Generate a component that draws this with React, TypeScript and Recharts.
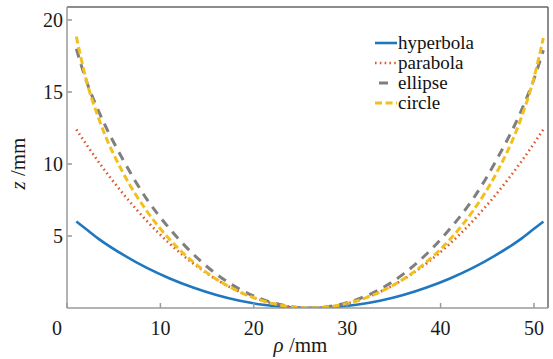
import React from "react";
import { LineChart, Line, XAxis, YAxis, ReferenceLine } from "recharts";

// radial position (mm) and sag of each profile (mm)
const rho = [1, 2, 3.5, 6, 8.5, 11, 13.5, 16, 18.5, 21, 23.5, 26, 28.5, 31, 33.5, 36, 38.5, 41, 43.5, 46, 48.5, 50, 51];
const hyperbola = [6.0, 5.5, 4.75, 3.7, 2.8, 2.05, 1.42, 0.9, 0.5, 0.22, 0.06, 0, 0.06, 0.22, 0.5, 0.9, 1.42, 2.05, 2.8, 3.7, 4.75, 5.5, 6.0];
const parabola = [12.4, 11.43, 10.04, 7.94, 6.08, 4.46, 3.1, 1.98, 1.12, 0.5, 0.12, 0, 0.12, 0.5, 1.12, 1.98, 3.1, 4.46, 6.08, 7.94, 10.04, 11.43, 12.4];
const ellipse = [18.0, 15.9, 13.5, 10.3, 7.6, 5.5, 3.75, 2.35, 1.3, 0.58, 0.15, 0, 0.15, 0.58, 1.3, 2.35, 3.75, 5.5, 7.6, 10.3, 13.5, 15.9, 17.9];
const circle = [18.85, 16.0, 12.97, 9.39, 6.77, 4.76, 3.2, 2.0, 1.11, 0.49, 0.12, 0, 0.12, 0.49, 1.11, 2.0, 3.2, 4.76, 6.77, 9.39, 12.97, 16.0, 18.75];

const xTicks = [0, 10, 20, 30, 40, 50];
const yTicks = [5, 10, 15, 20];

const data = rho.map((r, i) => ({
  rho: r,
  hyperbola: hyperbola[i],
  parabola: parabola[i],
  ellipse: ellipse[i],
  circle: circle[i],
}));

const series = [
  { key: "hyperbola", color: "#1f77c0", dash: undefined, width: 2.6 },
  { key: "parabola", color: "#dc5a2e", dash: "1.6 3.2", width: 2.6 },
  { key: "ellipse", color: "#7f7f7f", dash: "9 7", width: 3 },
  { key: "circle", color: "#f2c01e", dash: "7 3.5", width: 3 },
];

const FONT = "'Liberation Serif', 'Times New Roman', serif";

const XTick = ({ x, y, payload }: any) => (
  <text
    x={payload.value === 0 ? x - 10 : x}
    y={y}
    dy="0.71em"
    textAnchor="middle"
    fontFamily={FONT}
    fontSize={20}
    fill="#1a1a1a"
  >
    {payload.value}
  </text>
);

const LegendBox = () => (
  <div
    style={{
      position: "absolute",
      left: 374,
      top: 33,
      fontFamily: FONT,
      fontSize: 19,
      color: "#111",
      background: "#fff",
    }}
  >
    {series.map((s) => (
      <div
        key={s.key}
        style={{ display: "flex", alignItems: "center", height: 20 }}
      >
        <svg width={24} height={20}>
          <line
            x1={1}
            x2={23}
            y1={10}
            y2={10}
            stroke={s.color}
            strokeWidth={s.width}
            strokeDasharray={s.key === "ellipse" ? "0 4 9 20" : s.dash}
          />
        </svg>
        <span style={{ lineHeight: "18px" }}>{s.key}</span>
      </div>
    ))}
  </div>
);

export default function App() {
  return (
    <div style={{ position: "absolute", left: 0, top: 0, background: "#fff" }}>
      <LineChart
        width={553}
        height={359}
        data={data}
        margin={{ top: 7, right: 5, left: 0, bottom: 0 }}
      >
        <XAxis
          dataKey="rho"
          type="number"
          domain={[0, 51.5]}
          ticks={xTicks}
          allowDataOverflow
          height={51}
          stroke="#9a9a9a"
          strokeWidth={1.5}
          tickSize={-5}
          tickMargin={18}
          tick={<XTick />}
          label={{
            content: ({ viewBox }: any) => (
              <text
                x={viewBox.x + viewBox.width / 2 - 7}
                y={viewBox.y + viewBox.height - 7}
                textAnchor="middle"
                fontFamily={FONT}
                fontSize={21}
                fill="#1a1a1a"
              >
                <tspan fontStyle="italic">ρ</tspan> /mm
              </text>
            ),
          }}
        />
        <YAxis
          type="number"
          domain={[0, 20.9]}
          ticks={yTicks}
          allowDataOverflow
          width={67}
          stroke="#9a9a9a"
          strokeWidth={1.5}
          tickSize={-5}
          tickMargin={9}
          tick={{ fontFamily: FONT, fontSize: 20, fill: "#1a1a1a" }}
          label={{
            content: ({ viewBox }: any) => {
              const cx = 18;
              const cy = viewBox.y + viewBox.height / 2 + 6;
              return (
                <text
                  x={cx}
                  y={cy}
                  transform={`rotate(-90 ${cx} ${cy})`}
                  textAnchor="middle"
                  dominantBaseline="central"
                  fontFamily={FONT}
                  fontSize={21}
                  fill="#1a1a1a"
                >
                  <tspan fontStyle="italic">z</tspan> /mm
                </text>
              );
            },
          }}
        />
        <ReferenceLine y={20.9} stroke="#666" strokeWidth={1.5} />
        <ReferenceLine x={51.5} stroke="#666" strokeWidth={1.5} />
        {series.map((s) => (
          <Line
            key={s.key}
            type="monotone"
            dataKey={s.key}
            stroke={s.color}
            strokeWidth={s.width}
            strokeDasharray={s.dash}
            dot={false}
            isAnimationActive={false}
          />
        ))}
      </LineChart>
      <LegendBox />
    </div>
  );
}
